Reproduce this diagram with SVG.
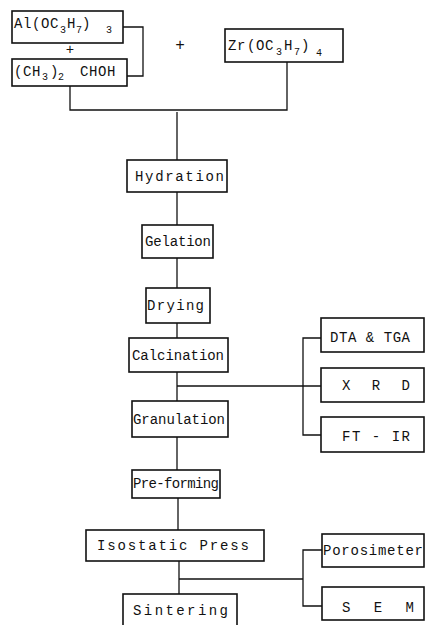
<svg xmlns="http://www.w3.org/2000/svg" width="426" height="625" viewBox="0 0 426 625">
<style>
.box{fill:#fff;stroke:#111;stroke-width:1.6}
.ln{fill:none;stroke:#111;stroke-width:1.3}
text{font-family:"Liberation Mono","Courier New",monospace;font-size:14px;fill:#111}
.f{letter-spacing:0.6px}
.sub{font-size:10px;letter-spacing:0}
</style>
<rect width="426" height="625" fill="#fff"/>
<g id="connectors">
<polyline class="ln" points="123,27 143,27 143,76 127,76"/>
<polyline class="ln" points="70,86 70,110 287,110 287,62"/>
<line class="ln" x1="177" y1="112" x2="177" y2="160"/>
<line class="ln" x1="177" y1="192" x2="177" y2="225"/>
<line class="ln" x1="177" y1="258" x2="177" y2="288"/>
<line class="ln" x1="177" y1="323" x2="177" y2="338"/>
<line class="ln" x1="177" y1="372" x2="177" y2="401"/>
<line class="ln" x1="177" y1="386" x2="321" y2="386"/>
<polyline class="ln" points="321,338 303,338 303,435 321,435"/>
<line class="ln" x1="177" y1="437" x2="177" y2="470"/>
<line class="ln" x1="178" y1="498" x2="178" y2="530"/>
<line class="ln" x1="179" y1="561" x2="179" y2="594"/>
<line class="ln" x1="179" y1="579" x2="303" y2="579"/>
<polyline class="ln" points="322,550 303,550 303,606 322,606"/>
</g>
<g id="al">
<rect class="box" x="12" y="11" width="111" height="32"/>
<text class="f"><tspan x="14" y="28">Al(OC</tspan><tspan class="sub" x="60" y="33">3</tspan><tspan x="67" y="28">H</tspan><tspan class="sub" x="76" y="33">7</tspan><tspan x="82" y="28">)</tspan><tspan class="sub" x="106" y="33">3</tspan></text>
</g>
<g id="plus1"><text x="70" y="54" text-anchor="middle">+</text></g>
<g id="chohbox">
<rect class="box" x="12" y="59" width="115" height="27"/>
<text class="f"><tspan x="14" y="76">(CH</tspan><tspan class="sub" x="42" y="80">3</tspan><tspan x="50" y="76">)</tspan><tspan class="sub" x="58" y="80">2</tspan><tspan x="80" y="76">CHOH</tspan></text>
</g>
<g id="plus2"><text x="180" y="50" text-anchor="middle" style="font-size:16px">+</text></g>
<g id="zr">
<rect class="box" x="225" y="29" width="118" height="33"/>
<text class="f"><tspan x="228" y="50">Zr</tspan><tspan x="247" y="50">(OC</tspan><tspan class="sub" x="276" y="55">3</tspan><tspan x="284" y="50">H</tspan><tspan class="sub" x="294" y="55">7</tspan><tspan x="301" y="50">)</tspan><tspan class="sub" x="316" y="56">4</tspan></text>
</g>
<g id="hydration">
<rect class="box" x="127" y="160" width="100" height="32"/>
<text x="135" y="181" textLength="89" lengthAdjust="spacing">Hydration</text>
</g>
<g id="gelation">
<rect class="box" x="142" y="225" width="71" height="33"/>
<text x="145" y="246" textLength="66" lengthAdjust="spacing">Gelation</text>
</g>
<g id="drying">
<rect class="box" x="146" y="288" width="64" height="35"/>
<text x="147" y="310" textLength="57" lengthAdjust="spacing">Drying</text>
</g>
<g id="calcination">
<rect class="box" x="129" y="338" width="99" height="34"/>
<text x="132" y="360" textLength="92" lengthAdjust="spacing">Calcination</text>
</g>
<g id="granulation">
<rect class="box" x="132" y="401" width="96" height="36"/>
<text x="133" y="424" textLength="92" lengthAdjust="spacing">Granulation</text>
</g>
<g id="preforming">
<rect class="box" x="132" y="470" width="88" height="28"/>
<text x="133" y="488" textLength="86" lengthAdjust="spacing">Pre-forming</text>
</g>
<g id="isostatic">
<rect class="box" x="86" y="530" width="178" height="31"/>
<text x="97" y="550" textLength="152" lengthAdjust="spacing">Isostatic Press</text>
</g>
<g id="sintering">
<rect class="box" x="123" y="594" width="114" height="40"/>
<text x="133" y="615" textLength="95" lengthAdjust="spacing">Sintering</text>
</g>
<g id="dta">
<rect class="box" x="321" y="318" width="103" height="34"/>
<text x="330" y="342" textLength="80" lengthAdjust="spacing">DTA &amp; TGA</text>
</g>
<g id="xrd">
<rect class="box" x="321" y="368" width="103" height="34"/>
<text x="342" y="390" textLength="68" lengthAdjust="spacing">X R D</text>
</g>
<g id="ftir">
<rect class="box" x="321" y="417" width="103" height="35"/>
<text x="342" y="441" textLength="68" lengthAdjust="spacing">FT - IR</text>
</g>
<g id="porosimeter">
<rect class="box" x="322" y="534" width="102" height="33"/>
<text x="323" y="555" textLength="100" lengthAdjust="spacing">Porosimeter</text>
</g>
<g id="sem">
<rect class="box" x="322" y="587" width="102" height="33"/>
<text x="342" y="612" textLength="72" lengthAdjust="spacing">S E M</text>
</g>
</svg>
